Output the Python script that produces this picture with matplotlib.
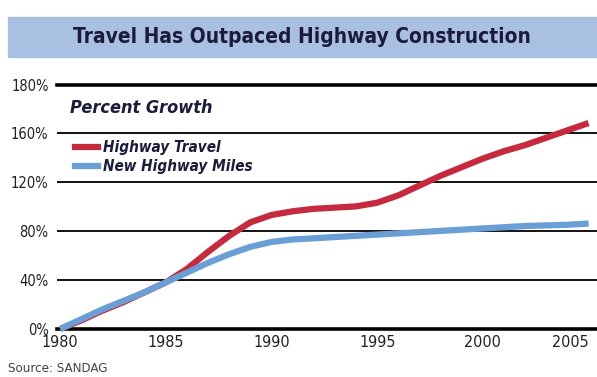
import matplotlib.pyplot as plt
from matplotlib.patches import Rectangle
from matplotlib.lines import Line2D

# percent growth since 1980
years = list(range(1980, 2006))
highway_travel = [0, 7, 15, 22, 30, 38, 49, 63, 76, 87, 93, 96, 98,
                  99, 100, 103, 109, 117, 125, 132, 139, 145, 150, 156, 162, 168]
new_highway_miles = [0, 8, 16, 23, 30, 38, 46, 54, 61, 67, 71, 73, 74,
                     75, 76, 77, 78, 79, 80, 81, 82, 83, 84, 84.5, 85, 86]

tick_values = [0, 40, 80, 120, 160]
tick_labels = ['0%', '40%', '80%', '120%', '160%']
top_label = '180%'
x_ticks = [1980, 1985, 1990, 1995, 2000, 2005]

red = '#c62a3f'
blue = '#6a9fd6'
band = '#a9c0e3'
navy = '#1b1b3c'
font = 'DejaVu Sans'
narrow = 'condensed'

fig = plt.figure(figsize=(5.97, 3.77), dpi=100)

# title band
fig.patches.append(Rectangle((8 / 597, 1 - 57 / 377), 1, 40 / 377,
                             transform=fig.transFigure, color=band, zorder=0))
fig.text(0.505, 1 - 37 / 377, 'Travel Has Outpaced Highway Construction',
         ha='center', va='center', fontsize=15, fontweight='bold',
         fontstretch=narrow, color=navy, family=font)

ax = fig.add_axes([57 / 597, 1 - 329 / 377, 540 / 597, 244 / 377])
top = 199
ax.set_ylim(0, top)
ax.set_xlim(1979.85, 2005.4)

for v in tick_values[1:]:
    ax.axhline(v, color='black', lw=1.3, zorder=1)
ax.axhline(top, color='black', lw=2.6, zorder=1, clip_on=False)
ax.axhline(0, color='black', lw=2.6, zorder=1, clip_on=False)

ax.plot(years, highway_travel, color=red, lw=4.5, solid_capstyle='butt',
        solid_joinstyle='round', zorder=3, clip_on=False)
ax.plot(years, new_highway_miles, color=blue, lw=4.5, solid_capstyle='butt',
        solid_joinstyle='round', zorder=4, clip_on=False)

for s in ax.spines.values():
    s.set_visible(False)

ax.set_yticks(tick_values + [top])
ax.set_yticklabels(tick_labels + [top_label], family=font, fontstretch=narrow,
                   fontsize=10.5, color='#222222')
ax.set_xticks(x_ticks)
ax.set_xticklabels([str(x) for x in x_ticks], family=font, fontstretch=narrow,
                   fontsize=11.5, color='#222222')
ax.get_xticklabels()[-1].set_horizontalalignment('right')
ax.get_xticklabels()[-1].set_x(2005.45)
ax.tick_params(axis='y', length=0, pad=6)
ax.tick_params(axis='x', length=0, pad=4)

# legend block
ax.text(0.025, 0.905, 'Percent Growth', transform=ax.transAxes,
        fontsize=13, fontweight='bold', style='italic', fontstretch=narrow,
        color=navy, family=font, va='center')
handles = [Line2D([], [], color=red, lw=4.5), Line2D([], [], color=blue, lw=4.5)]
ax.legend(handles, ['Highway Travel', 'New Highway Miles'],
          loc='upper left', bbox_to_anchor=(0.008, 0.83), frameon=False,
          handlelength=1.5, handletextpad=0.3, labelspacing=0.25,
          prop={'family': font, 'size': 11, 'weight': 'bold',
                'style': 'italic', 'stretch': narrow},
          labelcolor=navy)

fig.text(8 / 597, 1 - 369 / 377, 'Source: SANDAG', fontsize=9.5,
         fontstretch=narrow, color='#444444', family=font, va='center')

fig.savefig('out.png', dpi=100)
